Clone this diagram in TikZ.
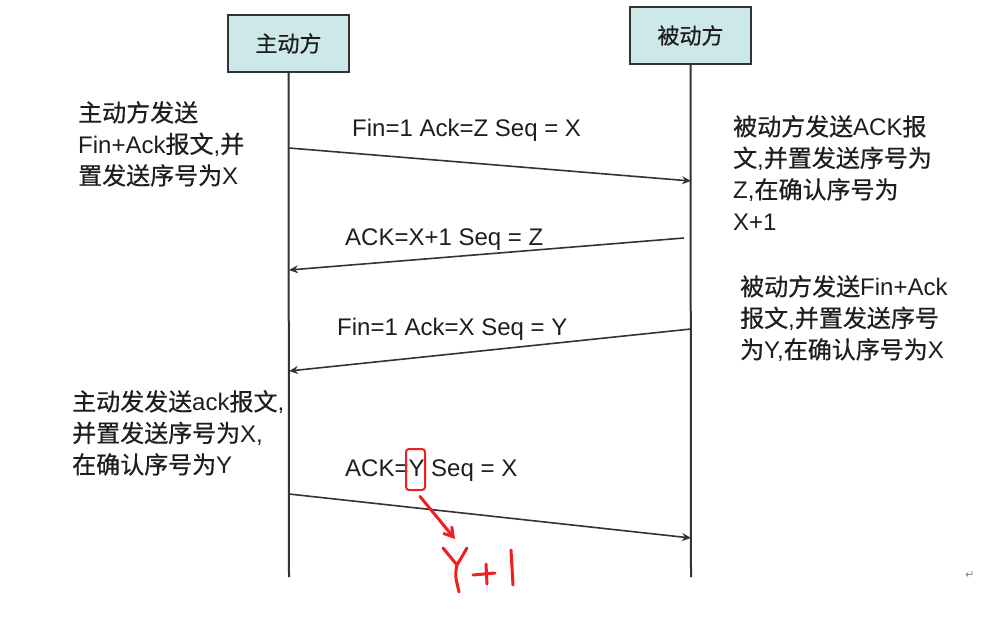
\documentclass[tikz,border=0pt]{standalone}
\usepackage{fontspec}
\setmainfont{Liberation Sans}
\newfontfamily\cjk{Noto Sans CJK SC}[FakeBold=0.6]
\newfontfamily\symfont{DejaVu Sans}
\usetikzlibrary{arrows.meta}
\newcommand{\zh}[1]{{\cjk #1}}
\definecolor{boxfill}{HTML}{CDE8E9}
\definecolor{txt}{HTML}{1E1E1E}
\definecolor{linec}{HTML}{333333}
\definecolor{markred}{HTML}{F01E1E}
\begin{document}
\begin{tikzpicture}[x=1pt,y=-1pt,
  actor/.style={draw=linec, line width=2pt, fill=boxfill, minimum width=121pt,
    minimum height=57pt, inner sep=0pt, text=txt, font=\fontsize{22}{26}\selectfont},
  life/.style={draw=linec, line width=2pt},
  msg/.style={draw=linec, line width=1.6pt, -{Stealth[length=9pt,width=8pt]}},
  lbl/.style={anchor=base west, inner sep=0pt, text=txt, font=\fontsize{24}{30}\selectfont},
  note/.style={anchor=north west, inner sep=0pt, align=left, text=txt,
    font=\fontsize{24}{31.5}\selectfont},
  red/.style={draw=markred, line width=3pt, line cap=round, line join=round}]
\useasboundingbox[fill=white] (0,0) rectangle (1006,638);

% actors
\node[actor] (A) at (288.5,43.5) {\zh{主动方}};
\node[actor] (B) at (690.5,35.5) {\zh{被动方}};
\coordinate (Aend) at (289,577);
\coordinate (Bend) at (691,577);
\draw[life] (A.south) -- (Aend);
\draw[life] (B.south) -- (Bend);

% message end points
\coordinate (a1) at (289,148); \coordinate (b1) at (691,181);
\coordinate (b2) at (684,238); \coordinate (a2) at (289,270);
\coordinate (b3) at (691,329); \coordinate (a3) at (289,371);
\coordinate (a4) at (289,494); \coordinate (b4) at (691,538);

\draw[msg] (a1) -- (b1);
\draw[msg] (b2) -- (a2);
\draw[msg] (b3) -- (a3);
\draw[msg] (a4) -- (b4);

% message labels
\node[lbl] (l1) at (352,136) {Fin=1 Ack=Z Seq = X};
\node[lbl] (l2) at (345,245) {ACK=X+1 Seq = Z};
\node[lbl] (l3) at (337,335) {Fin=1 Ack=X Seq = Y};
\node[lbl] (l4) at (345,476) {ACK=Y Seq = X};

% side notes
\node[note] (n1) at (78,101) {\zh{主动方发送}\\Fin+Ack\zh{报文},\zh{并}\\\zh{置发送序号为}X};
\node[note] (n2) at (733,115) {\zh{被动方发送}ACK\zh{报}\\\zh{文},\zh{并置发送序号为}\\Z,\zh{在确认序号为}\\X+1};
\node[note] (n3) at (740,275) {\zh{被动方发送}Fin+Ack\\\zh{报文},\zh{并置发送序号}\\\zh{为}Y,\zh{在确认序号为}X};
\node[note] (n4) at (72,390) {\zh{主动发发送}ack\zh{报文},\\\zh{并置发送序号为}X,\\\zh{在确认序号为}Y};

% red annotation
\node[draw=markred, line width=2pt, rounded corners=3pt, minimum width=19pt,
  minimum height=41pt, inner sep=0pt] (ybox) at (415.5,469.5) {};
\coordinate (hw) at (455,539);
\draw[red, -{Straight Barb[length=9pt,width=11pt]}, shorten <=7pt] (ybox.south) -- (hw);
% handwritten Y+1
\draw[red] (443,548) -- (457,565);
\draw[red] (467,548) -- (457,565) .. controls (455,575) .. (459,592);
\draw[red] (473,575) -- (495,573);
\draw[red] (486,564) -- (487,584);
\draw[red] (511,550) -- (513,585);

% return mark
\node[text=gray, font=\symfont\fontsize{11}{12}\selectfont, inner sep=0pt] (ret) at (970,575) {↵};
\end{tikzpicture}
\end{document}
